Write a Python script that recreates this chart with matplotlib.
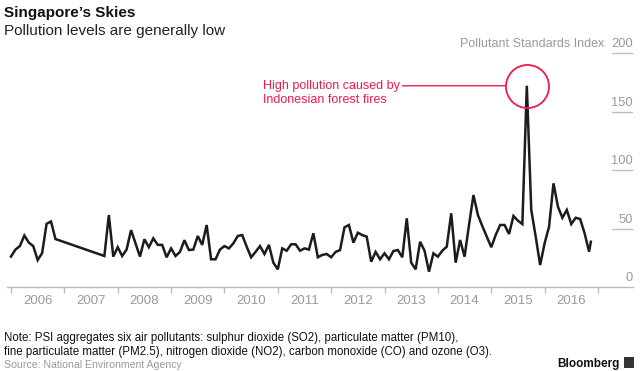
import matplotlib.pyplot as plt
import matplotlib.transforms as mtransforms
from matplotlib.patches import Rectangle
import numpy as np

plt.rcParams['font.family'] = ['Liberation Sans', 'DejaVu Sans']

# monthly Pollutant Standards Index readings (month strings, last one partial)
months = [
    "2006-01", "2006-02", "2006-03", "2006-04", "2006-05", "2006-06",
    "2006-07", "2006-08", "2006-09", "2006-10", "2006-11",
    "2007-10", "2007-11", "2007-12",
    "2008-01", "2008-02", "2008-03", "2008-04", "2008-05", "2008-06",
    "2008-07", "2008-08", "2008-09", "2008-10", "2008-11", "2008-12",
    "2009-01", "2009-02", "2009-03", "2009-04", "2009-05", "2009-06",
    "2009-07", "2009-08", "2009-09", "2009-10", "2009-11", "2009-12",
    "2010-01", "2010-02", "2010-03", "2010-04", "2010-05", "2010-06",
    "2010-07", "2010-08", "2010-09", "2010-10", "2010-11", "2010-12",
    "2011-01", "2011-02", "2011-03", "2011-04", "2011-05", "2011-06",
    "2011-07", "2011-08", "2011-09", "2011-10", "2011-11", "2011-12",
    "2012-01", "2012-02", "2012-03", "2012-04", "2012-05", "2012-06",
    "2012-07", "2012-08", "2012-09", "2012-10", "2012-11", "2012-12",
    "2013-01", "2013-02", "2013-03", "2013-04", "2013-05", "2013-06",
    "2013-07", "2013-08", "2013-09", "2013-10", "2013-11", "2013-12",
    "2014-01", "2014-02", "2014-03", "2014-04", "2014-05", "2014-06",
    "2014-07", "2014-08", "2014-09", "2014-10", "2014-11", "2014-12",
    "2015-01", "2015-02", "2015-03", "2015-04", "2015-05", "2015-06",
    "2015-07", "2015-08", "2015-09", "2015-10", "2015-11", "2015-12",
    "2016-01", "2016-02", "2016-03", "2016-04", "2016-05", "2016-06",
    "2016-07", "2016-08", "2016-09", "2016-10", "2016-11", "2016-11.4",
]
psi = [
    26, 32, 35, 44, 38, 35, 23, 29, 54, 56, 41,
    26.5, 61.5, 26,
    34, 26.5, 32, 48.7, 37.3, 26, 40.8, 34, 41.6, 36, 36, 25.4,
    33, 26.5, 30, 40, 31.6, 32, 43.6, 36, 53, 23.7, 23.7, 32,
    35, 33, 37.3, 43.6, 44.4, 34.5, 25.4, 30, 35, 28.2, 36, 20.8,
    15.1, 33, 31, 36.5, 36.5, 31, 33, 32, 45.9, 25.4, 27.4, 28.2,
    25.4, 30, 31.6, 51, 53, 37.9, 46.4, 44.4, 43, 21.6, 30, 23.7,
    28.8, 23.7, 30.8, 31.6, 25.4, 58.7, 20.8, 15.1, 38.7, 31, 13.1, 28.8,
    25.9, 31, 34.5, 63, 20.8, 40.2, 25.9, 53, 78.6, 61.5, 52, 43,
    34, 44.4, 53, 53, 45.3, 60.7, 56.7, 53.8, 172, 65.8, 43, 18.8,
    37.3, 51.5, 88.6, 68.6, 59.2, 65.8, 53.8, 59.2, 58.1, 45.9, 30.2, 38.7,
]
years = list(range(2006, 2017))
yticks = [0, 50, 100, 150, 200]

x = np.array([int(m[:4]) + (float(m[5:]) - 1) / 12 for m in months])
y = np.array(psi)

red = '#ec1c4a'
gray = '#9a9a9a'
axis_gray = '#bdbdbd'

W, H = 640, 371
fig = plt.figure(figsize=(W / 100, H / 100), dpi=100)


def fx(px):
    return px / W


def fy(py):
    return 1 - py / H


ax = fig.add_axes([fx(7), fy(287), 626 / W, (287 - 40) / H])
ax.plot(x, y, color='#1c1c1c', lw=1.8, solid_joinstyle='miter')
ax.set_xlim(2006 - 4 / 53.36, 2006 + 622 / 53.36)
ax.set_ylim(0, 247 / 1.17)

for s in ['top', 'right', 'left']:
    ax.spines[s].set_visible(False)
ax.spines['bottom'].set_color(axis_gray)
ax.spines['bottom'].set_linewidth(1)
ax.set_yticks([])
ax.set_xticks(years + [2017])
ax.set_xticklabels([])
ax.set_xticks([yr + 0.5 for yr in years], minor=True)
ax.set_xticklabels([str(yr) for yr in years], minor=True)
ax.tick_params(axis='x', which='major', length=4.5, width=1, color=axis_gray, direction='out')
ax.tick_params(axis='x', which='minor', length=0, pad=5.5, labelsize=9.5, labelcolor=gray)

blend = mtransforms.blended_transform_factory(ax.transAxes, ax.transData)
for v in yticks:
    ax.text(1.0, v + 2.5, str(v), transform=blend, ha='right', va='bottom',
            fontsize=9.3, color=gray)
    if v > 0:
        ax.plot([0.966, 1.0], [v, v], transform=blend, color=axis_gray, lw=1)
ax.text(0.954, yticks[-1] + 2.5, 'Pollutant Standards Index', transform=blend,
        ha='right', va='bottom', fontsize=9, color=gray)

# annotation for the haze peak
i = int(np.argmax(y))
ax.plot(x[i], y[i], 'o', ms=31, mfc='none', mec=red, mew=1.3)
ax.annotate('', xy=(x[i], y[i]), xytext=(-89.5, 0), textcoords='offset points',
            arrowprops=dict(arrowstyle='-', color=red, lw=1, shrinkA=0, shrinkB=15.6))
fig.text(fx(400), fy(89.5), 'High pollution caused by', ha='right', va='baseline',
         fontsize=9, color=red)
fig.text(fx(263), fy(103), 'Indonesian forest fires', ha='left', va='baseline',
         fontsize=9, color=red)

fig.text(fx(4), fy(17.5), 'Singapore\u2019s Skies', fontsize=11, fontweight='bold',
         va='baseline', color='#111111')
fig.text(fx(4), fy(35.5), 'Pollution levels are generally low', fontsize=11,
         va='baseline', color='#222222')

fig.text(fx(4), fy(341), 'Note: PSI aggregates six air pollutants: sulphur dioxide (SO2), '
         'particulate matter (PM10),', fontsize=8.3, va='baseline', color='#111111')
fig.text(fx(4), fy(355), 'fine particulate matter (PM2.5), nitrogen dioxide (NO2), '
         'carbon monoxide (CO) and ozone (O3).', fontsize=8.3, va='baseline', color='#111111')
fig.text(fx(4), fy(367.5), 'Source: National Environment Agency', fontsize=7.6,
         va='baseline', color=gray)

fig.text(fx(620), fy(367), 'Bloomberg', fontsize=8.5, fontweight='bold',
         ha='right', va='baseline', color='#111111')
fig.patches.append(Rectangle((fx(624), fy(368)), 10 / W, 11 / H, transform=fig.transFigure,
                             facecolor='#333333', edgecolor='none'))

fig.savefig('out.png', dpi=100)
